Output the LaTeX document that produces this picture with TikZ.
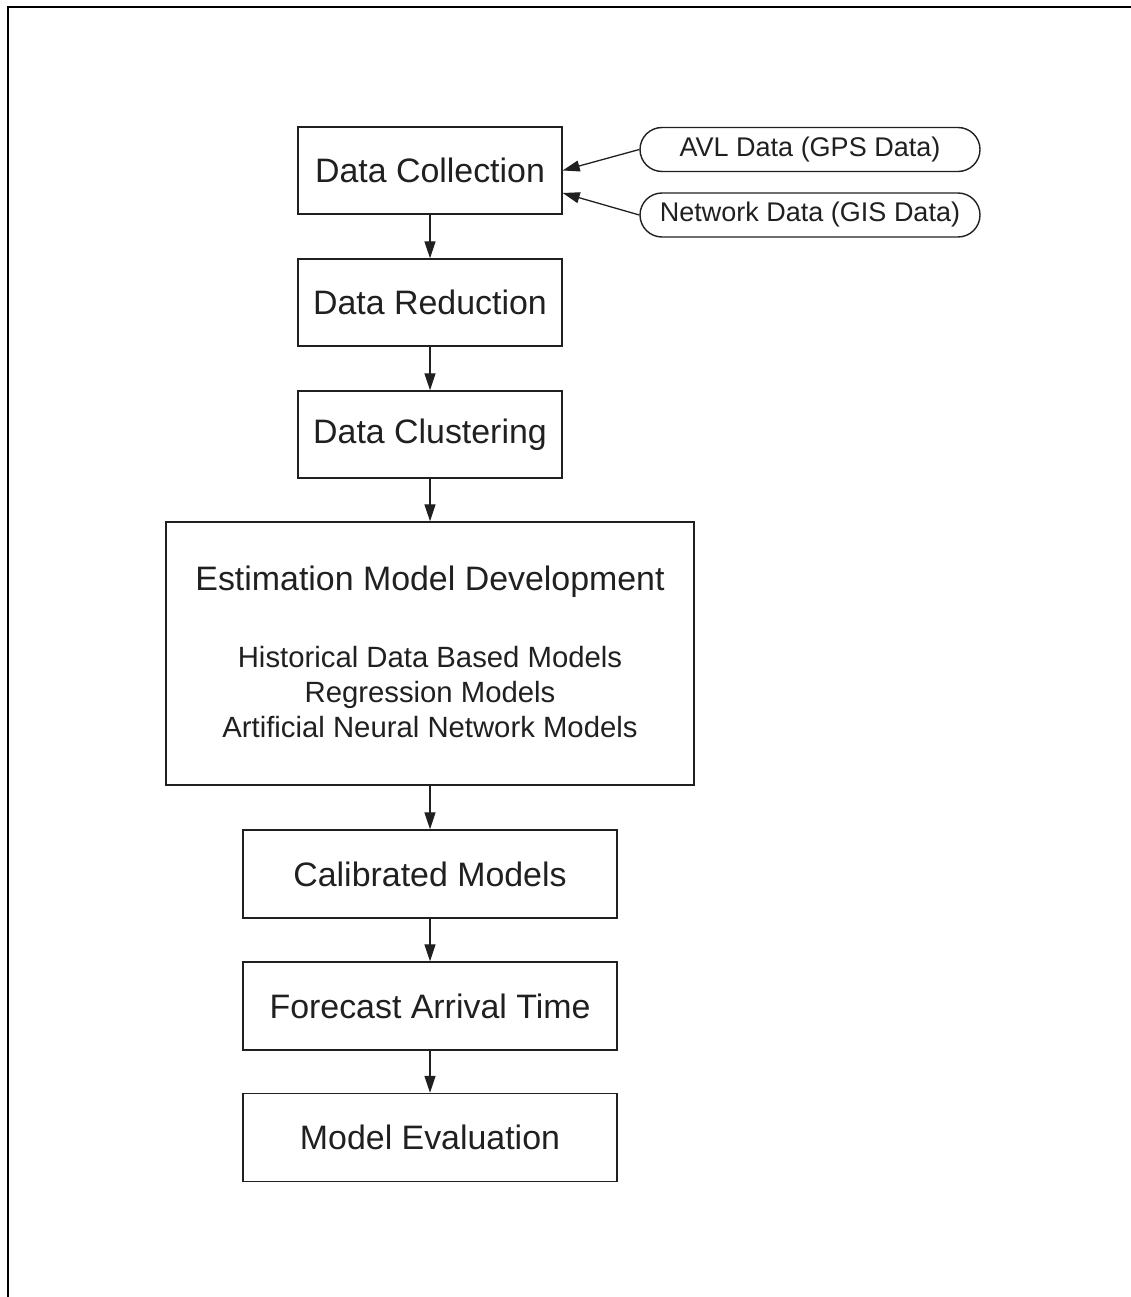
\documentclass[tikz,border=0pt]{standalone}
\usepackage{fontspec}
\setmainfont{Liberation Sans}
\usetikzlibrary{arrows.meta}
\definecolor{ink}{HTML}{202020}
\begin{document}
\begin{tikzpicture}[x=1pt,y=-1pt,
  stepbox/.style={draw=ink, line width=1.4pt, rectangle, inner sep=0pt,
    text=ink, font=\fontsize{33.9}{40}\selectfont},
  narrow/.style={stepbox, minimum width=264pt, minimum height=87pt},
  wide/.style={stepbox, minimum width=374pt, minimum height=88pt},
  source/.style={draw=ink, line width=1.4pt, rectangle, rounded corners=22pt,
    inner sep=0pt, minimum width=340pt, minimum height=44pt,
    text=ink, font=\fontsize{27}{32}\selectfont},
  subline/.style={anchor=base, inner sep=0pt, text=ink,
    font=\fontsize{29.3}{35}\selectfont},
  flow/.style={draw=ink, line width=1.3pt, -{Triangle[length=17pt,width=11pt]}}
]
\useasboundingbox (0,0) rectangle (1131,1297);

% page frame (top and left edges)
\draw[line width=2pt, black] (7.7,1297) -- (7.7,7) -- (1131,7);

% main flow
\node[narrow] (dc)  at (430,170.5) {Data Collection};
\node[narrow] (dr)  at (430,302.5) {Data Reduction};
\node[narrow] (dcl) at (430,434.5) {Data Clustering};
\node[stepbox, minimum width=528pt, minimum height=263pt] (emd) at (430,653.5) {};
\node[wide] (cm)  at (430,874)  {Calibrated Models};
\node[wide] (fat) at (430,1006) {Forecast Arrival Time};
\node[wide] (me)  at (430,1137.5) {Model Evaluation};

% contents of the model development box
\node[anchor=base, inner sep=0pt, text=ink, font=\fontsize{33.9}{40}\selectfont]
  (emdt) at ([yshift=-69pt]emd.north) {Estimation Model Development};
\node[subline] (emd1) at ([yshift=-146pt]emd.north) {Historical Data Based Models};
\node[subline] (emd2) at ([yshift=-181pt]emd.north) {Regression Models};
\node[subline] (emd3) at ([yshift=-216pt]emd.north) {Artificial Neural Network Models};

% data sources
\node[source] (avl) at (810,149.5) {AVL Data (GPS Data)};
\node[source] (net) at (810,215)   {Network Data (GIS Data)};

% connectors
\draw[flow] (avl.west) -- (dc.east);
\draw[flow] (net.west) -- ([yshift=-22.5pt]dc.east);
\draw[flow] (dc)  -- (dr);
\draw[flow] (dr)  -- (dcl);
\draw[flow] (dcl) -- (emd);
\draw[flow] (emd) -- (cm);
\draw[flow] (cm)  -- (fat);
\draw[flow] (fat) -- (me);
\end{tikzpicture}
\end{document}
